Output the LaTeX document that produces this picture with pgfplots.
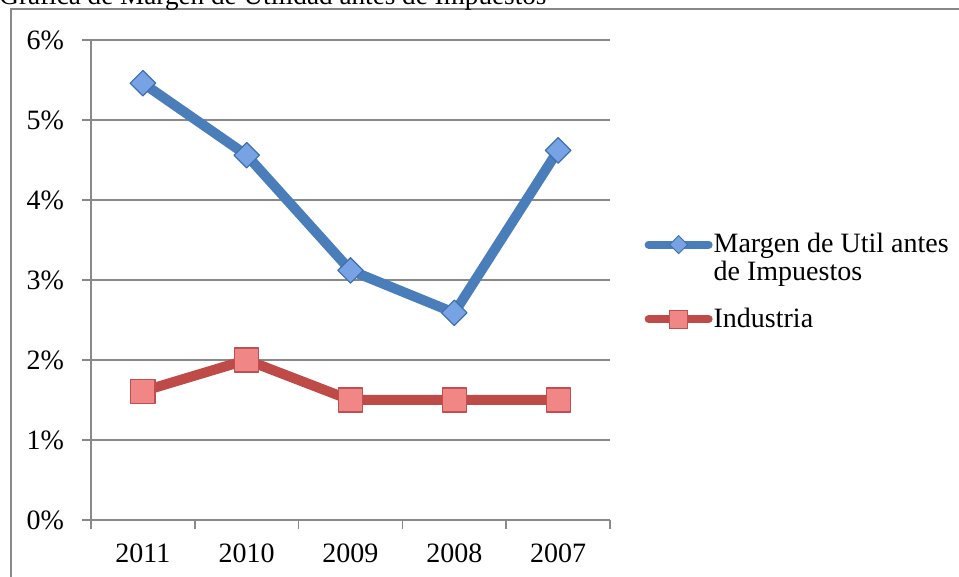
\documentclass[border=0pt]{standalone}
\usepackage{fontspec}
\setmainfont{Liberation Serif}
\usepackage{pgfplots}
\pgfplotsset{compat=1.18}
\definecolor{gridgray}{HTML}{898989}
\definecolor{blueline}{HTML}{4A7EBB}
\definecolor{bluefill}{HTML}{77A2E4}
\definecolor{blueedge}{HTML}{3F6FB0}
\definecolor{redline}{HTML}{BE4B48}
\definecolor{redfill}{HTML}{F08685}
\definecolor{rededge}{HTML}{C0504D}
\begin{document}
\begin{tikzpicture}[x=0.5pt,y=0.5pt]
\draw[gridgray,line width=0.75pt] (11,-20) -- (11,568) -- (980,568);
\node[anchor=base west, inner sep=0pt, font=\fontsize{13.6}{16}\selectfont] at (-1,572) {Grafica de Margen de Utilidad antes de Impuestos};
\begin{axis}[
  at={(45.5pt,28.5pt)}, anchor=south west,
  scale only axis, width=259.5pt, height=240pt,
  xmin=-0.5, xmax=4.5, ymin=0, ymax=6,
  clip=false,
  axis x line*=bottom, axis y line*=left,
  axis line style={gridgray, line width=0.75pt, -},
  xtick={0,...,4}, xticklabels={2011,2010,2009,2008,2007},
  minor xtick={-0.5,0.5,1.5,2.5,3.5,4.5},
  major x tick style={draw=none},
  ytick={0,...,6}, yticklabels={0\%,1\%,2\%,3\%,4\%,5\%,6\%},
  tick align=outside,
  major tick length=4.5pt, minor tick length=4.5pt,
  tick style={gridgray, line width=0.75pt},
  ymajorgrids, grid style={gridgray, line width=0.75pt},
  ticklabel style={font=\fontsize{14}{16}\selectfont},
  yticklabel style={xshift=-5.5pt},
  xticklabel style={yshift=-4pt},
  legend cell align=left,
  legend style={draw=none, fill=none, at={(1.066,0.6)}, anchor=north west,
    inner sep=0pt, row sep=11pt, font=\fontsize{14}{14}\selectfont,
    nodes={align=left, inner sep=0.5pt}},
]
\addplot[blueline, line width=5pt, line join=round, mark=square*, mark size=4.5pt,
  mark options={rotate=45, fill=bluefill, draw=blueedge, line width=0.6pt}, forget plot]
  coordinates {(0,5.46)(1,4.56)(2,3.12)(3,2.59)(4,4.62)};
\addplot[redline, line width=5pt, line join=round, mark=square*, mark size=6pt,
  mark options={fill=redfill, draw=rededge, line width=0.6pt}, forget plot]
  coordinates {(0,1.61)(1,2.0)(2,1.5)(3,1.5)(4,1.5)};
\addlegendimage{legend image code/.code={
  \draw[blueline, line width=4pt, line cap=round] (0pt,7pt) -- (30pt,7pt);
  \draw[blueedge, fill=bluefill, line width=0.5pt] (15pt,11.5pt) -- (19.5pt,7pt) -- (15pt,2.5pt) -- (10.5pt,7pt) -- cycle;}}
\addlegendentry{Margen de Util antes\\de Impuestos}
\addlegendimage{legend image code/.code={
  \draw[redline, line width=4pt, line cap=round] (0pt,0pt) -- (30pt,0pt);
  \draw[rededge, fill=redfill, line width=0.5pt] (10.5pt,-4.5pt) rectangle (19.5pt,4.5pt);}}
\addlegendentry{Industria}
\end{axis}
\pgfresetboundingbox
\useasboundingbox (0,0) rectangle (959,577);
\end{tikzpicture}
\end{document}
